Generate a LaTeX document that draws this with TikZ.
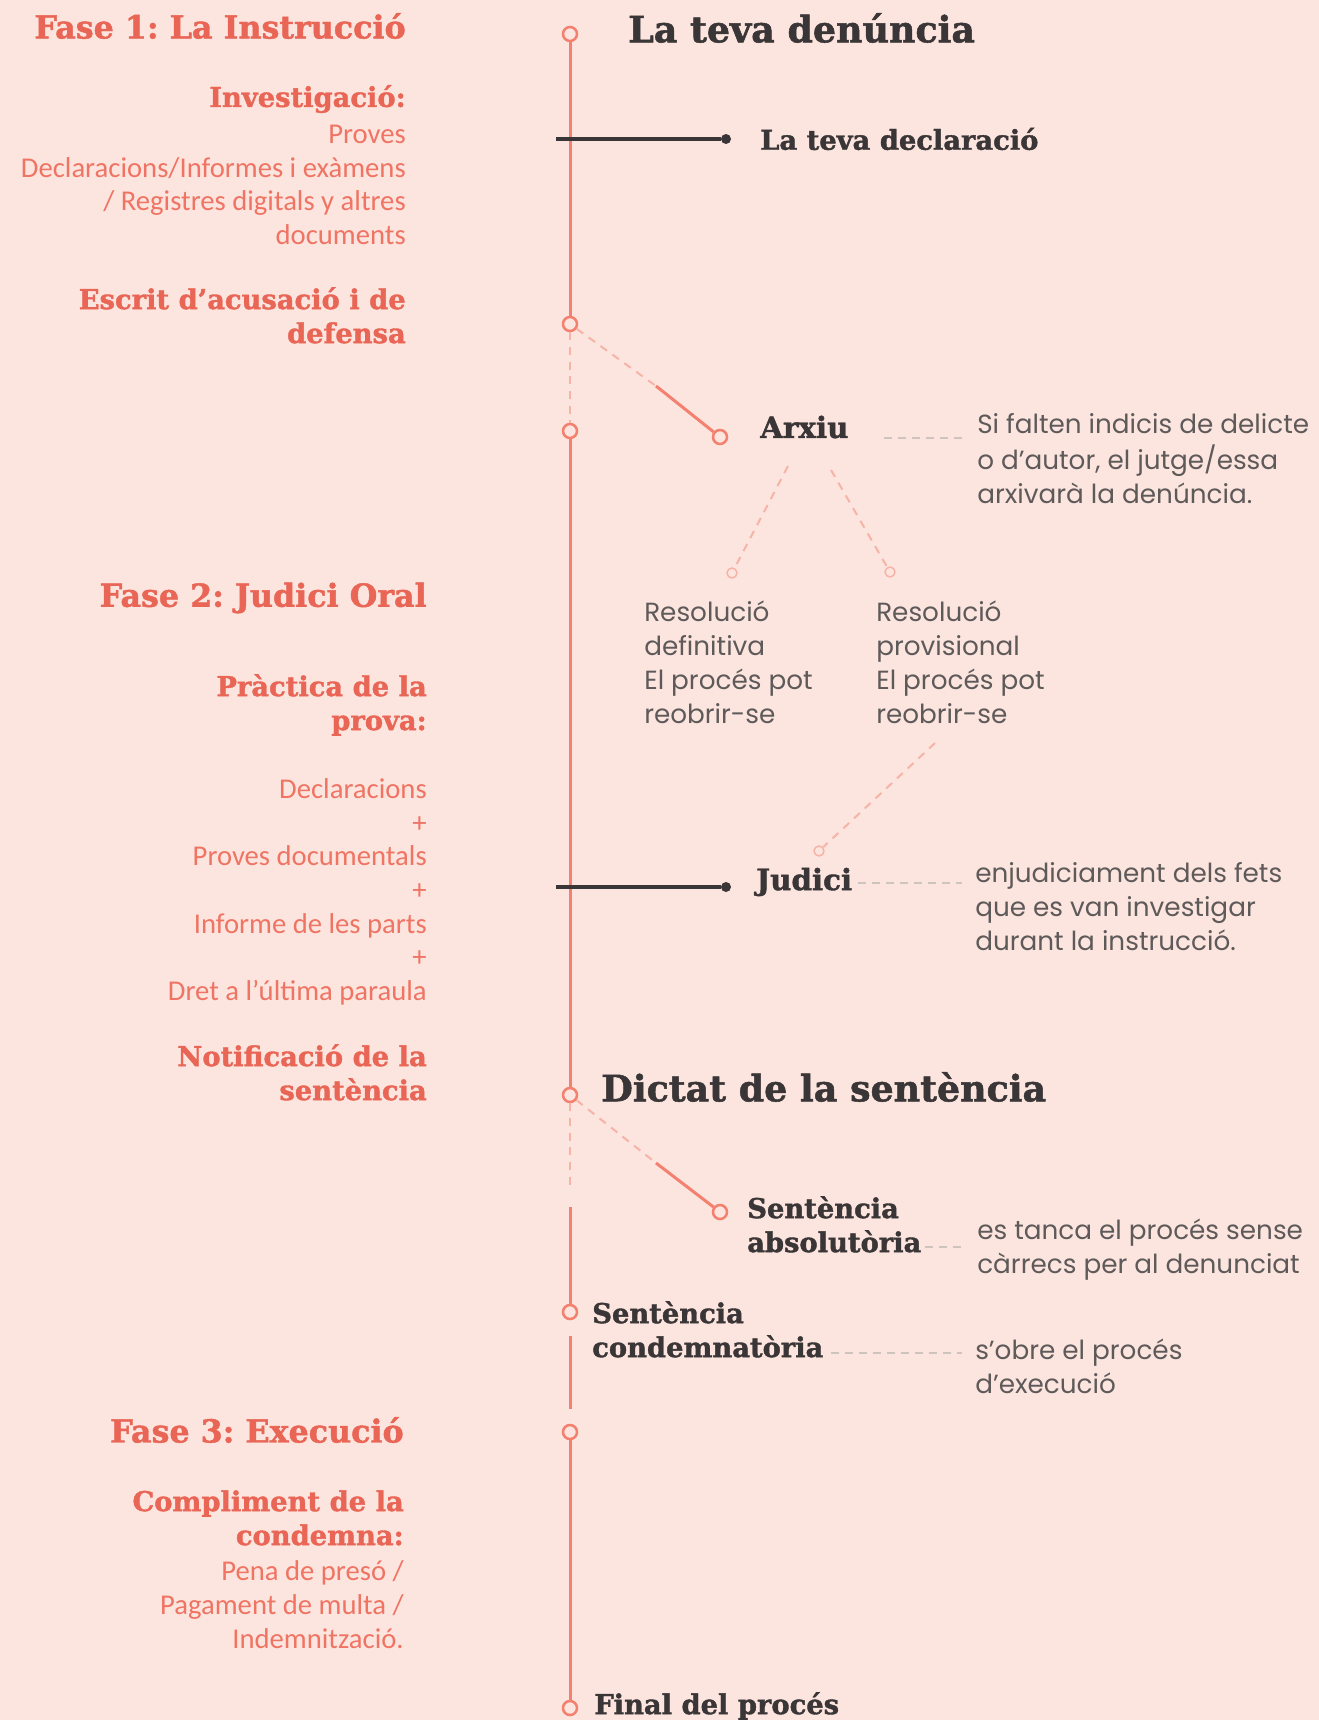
\documentclass[tikz,border=0pt]{standalone}
\usepackage{fontspec}
\setmainfont{Carlito}
\newfontfamily\slabf{DejaVu Serif}[BoldFeatures={FakeBold=1.4}]
\newfontfamily\calf{Carlito}
\newfontfamily\geof{Poppins}
\definecolor{bgc}{HTML}{FDE5DF}
\definecolor{linec}{HTML}{F4806F}
\definecolor{lightc}{HTML}{F6B4A7}
\definecolor{salh}{HTML}{E96656}
\definecolor{salb}{HTML}{EF7463}
\definecolor{darkt}{HTML}{3A3536}
\definecolor{greyt}{HTML}{5E5A5A}
\definecolor{gdashc}{HTML}{CFC3C0}
\frenchspacing
\begin{document}
\begin{tikzpicture}[x=0.75pt,y=-0.75pt,
  ring/.style={circle,draw=linec,line width=1.9pt,fill=bgc,minimum size=10.5pt,inner sep=0pt},
  sring/.style={circle,draw=lightc,line width=1.1pt,fill=bgc,minimum size=7.5pt,inner sep=0pt},
  dot/.style={circle,fill=darkt,minimum size=7.5pt,inner sep=0pt},
  tl/.style={draw=linec,line width=2.25pt},
  ldash/.style={draw=lightc,line width=1.5pt,dash pattern=on 6pt off 5pt},
  dl/.style={draw=darkt,line width=2.3pt},
  gdash/.style={draw=gdashc,line width=1.4pt,dash pattern=on 6pt off 4.5pt},
  bigh/.style={font=\slabf\bfseries\fontsize{27.3}{32}\selectfont,text=darkt,inner sep=0pt},
  lab/.style={font=\slabf\bfseries\fontsize{20.5}{25.5}\selectfont,text=darkt,inner sep=0pt,align=left},
  labb/.style={font=\slabf\bfseries\fontsize{22}{26}\selectfont,text=darkt,inner sep=0pt},
  lhead/.style={font=\slabf\bfseries\fontsize{23.8}{28}\selectfont,text=salh,inner sep=0pt},
  lsub/.style={font=\slabf\bfseries\fontsize{20.5}{25.5}\selectfont,text=salh,inner sep=0pt,align=right},
  lbody/.style={font=\calf\fontsize{21.5}{25.2}\selectfont,text=salb,inner sep=0pt,align=right},
  rbody/.style={font=\geof\fontsize{19.7}{25.5}\selectfont,text=greyt,inner sep=0pt,align=left,anchor=north west}
]
\fill[bgc] (0,0) rectangle (1319,1720);
\useasboundingbox (0,0) rectangle (1319,1720);

% timeline nodes
\node[ring] (A) at (570,34) {};
\node[ring] (B) at (570,324) {};
\node[ring] (C) at (570,431) {};
\node[ring] (D) at (720,437) {};
\node[ring] (E) at (570,1095) {};
\node[ring] (G) at (720,1212) {};
\node[ring] (F) at (570,1312) {};
\node[ring] (H) at (570,1432) {};
\node[ring] (I) at (570,1708) {};
\node[sring] (r1) at (732,573) {};
\node[sring] (r2) at (890,572) {};
\node[sring] (r3) at (819,851) {};

% coordinates
\coordinate (bd) at (656,386);
\coordinate (ed) at (656,1163);
\coordinate (ev1) at (570,1185);
\coordinate (ev2) at (570,1207);
\coordinate (d1s) at (556,139);
\coordinate (d2s) at (556,887);
\coordinate (a1) at (788,466);
\coordinate (a2) at (831,470);
\coordinate (a3) at (935,743);
\coordinate (g1a) at (884,438);  \coordinate (g1b) at (962,438);
\coordinate (g2a) at (858,883);  \coordinate (g2b) at (962,883);
\coordinate (g3a) at (925,1247); \coordinate (g3b) at (962,1247);
\coordinate (g4a) at (831,1353); \coordinate (g4b) at (962,1353);

% connectors
\draw[tl] (A) -- (B);
\draw[ldash] (B) -- (C);
\draw[ldash] (B) -- (bd);
\draw[tl] (bd) -- (D);
\draw[tl] (C) -- (E);
\draw[ldash] (E) -- (ev1);
\draw[tl] (ev2) -- (F);
\draw[ldash] (E) -- (ed);
\draw[tl] (ed) -- (G);
\draw[tl,shorten <=12pt,shorten >=11pt] (F) -- (H);
\draw[tl] (H) -- (I);
\node[dot] (d1) at (726,139) {};
\node[dot] (d2) at (726,887) {};
\draw[dl] (d1s) -- (d1);
\draw[dl] (d2s) -- (d2);
\draw[ldash] (a1) -- (r1);
\draw[ldash] (a2) -- (r2);
\draw[ldash] (a3) -- (r3);
\draw[gdash] (g1a) -- (g1b);
\draw[gdash] (g2a) -- (g2b);
\draw[gdash] (g3a) -- (g3b);
\draw[gdash] (g4a) -- (g4b);

% right labels
\node[bigh,anchor=west] (t1) at (628,28) {La teva denúncia};
\node[bigh,anchor=west] (t2) at (601,1087) {Dictat de la sentència};
\node[lab,anchor=west] (decl) at (760,139) {La teva declaració};
\node[labb,anchor=west] (arxiu) at (760,427) {Arxiu};
\node[labb,anchor=west] (judici) at (756,882) {Judici};
\node[lab,anchor=north west] (abs) at (747,1194) {\strut Sentència\\absolutòria};
\node[lab,anchor=north west] (cond) at (592,1299) {\strut Sentència\\condemnatòria};
\node[lab,anchor=west] (final) at (594,1706) {Final del procés};

\node[rbody] (arxd) at (977,409) {\strut Si falten indicis de delicte\\o d’autor, el jutge/essa\\arxivarà la denúncia.};
\node[rbody] (res1) at (644,597) {\strut Resolució\\definitiva\\El procés pot\\reobrir-se};
\node[rbody] (res2) at (876,597) {\strut Resolució\\provisional\\El procés pot\\reobrir-se};
\node[rbody] (judd) at (975,858) {\strut enjudiciament dels fets\\que es van investigar\\durant la instrucció.};
\node[rbody] (absd) at (977,1215) {\strut es tanca el procés sense\\càrrecs per al denunciat};
\node[rbody] (condd) at (975,1335) {\strut s’obre el procés\\d’execució};

% left column
\node[lhead,anchor=east] (f1) at (406,26) {Fase 1: La Instrucció};
\node[lsub,anchor=east] (inv) at (406,99) {Investigació:};
\node[lbody,anchor=north east] (invd) at (406,120) {\strut Proves\\Declaracions/Informes i exàmens\\/ Registres digitals y altres\\documents};
\node[lsub,anchor=north east] (esc) at (406,285) {\strut Escrit d’acusació i de\\defensa};
\node[lhead,anchor=east] (f2) at (427,598) {Fase 2: Judici Oral};
\node[lsub,anchor=north east] (prac) at (427,672) {\strut Pràctica de la\\prova:};
\node[lbody,anchor=north east] (pracd) at (427,775) {\strut Declaracions\\+\\Proves documentals\\+\\Informe de les parts\\+\\Dret a l’última paraula};
\node[lsub,anchor=north east] (notif) at (427,1042) {\strut Notificació de la\\sentència};
\node[lhead,anchor=east] (f3) at (404,1430) {Fase 3: Execució};
\node[lsub,anchor=north east] (comp) at (404,1487) {\strut Compliment de la\\condemna:};
\node[lbody,anchor=north east] (compd) at (404,1557) {\strut Pena de presó /\\Pagament de multa /\\Indemnització.};
\end{tikzpicture}
\end{document}
